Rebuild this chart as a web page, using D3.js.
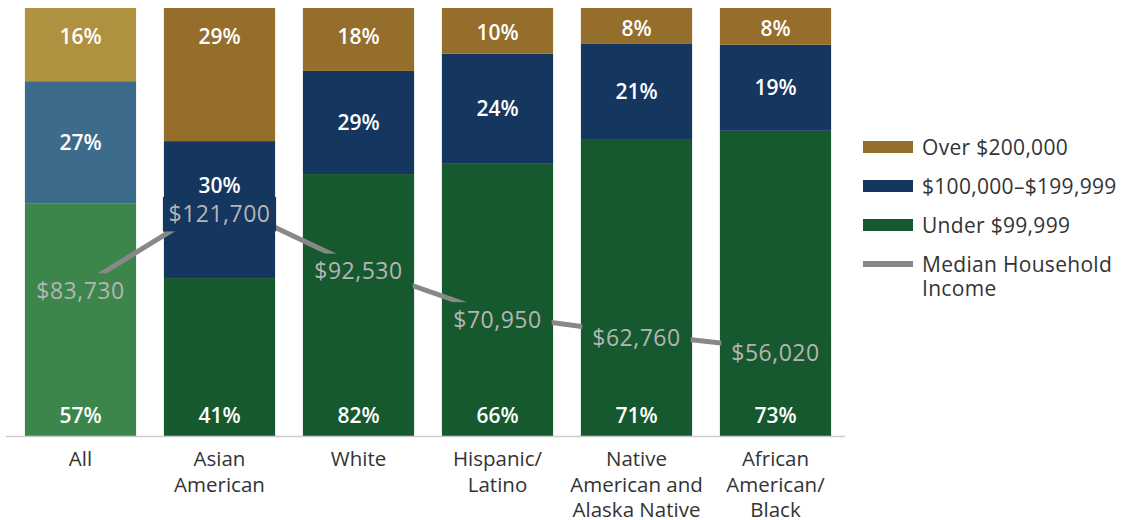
<!DOCTYPE html>
<html>
<head>
<meta charset="utf-8">
<script src="https://cdn.jsdelivr.net/npm/d3@7"></script>
<style>
	body { margin: 0; background: #fff; }
	svg { display: block; font-family: 'Open Sans', sans-serif; }
</style>
</head>
<body>
<svg></svg>
<script>
// categories and tick labels (multi line)
const categories = ['All', 'Asian American', 'White', 'Hispanic/Latino', 'Native American and Alaska Native', 'African American/Black'];
const tickLines = [['All'], ['Asian', 'American'], ['White'], ['Hispanic/', 'Latino'], ['Native', 'American and', 'Alaska Native'], ['African', 'American/', 'Black']];

// bar segment shares as drawn (percent of bar)
const under = [54.4, 36.9, 61.2, 63.6, 69.4, 71.3];
const middle = [28.5, 32.0, 24.1, 25.7, 22.2, 20.1];
const over = [17.1, 31.1, 14.7, 10.7, 8.4, 8.6];

// printed percentages
const underPct = [57, 41, 82, 66, 71, 73];
const middlePct = [27, 30, 29, 24, 21, 19];
const overPct = [16, 29, 18, 10, 8, 8];

// median household income
const medianIncome = [83730, 121700, 92530, 70950, 62760, 56020];

const legendItems = [
	{key: 'over', text: ['Over $200,000']},
	{key: 'middle', text: ['$100,000–$199,999']},
	{key: 'under', text: ['Under $99,999']},
	{key: 'line', text: ['Median Household', 'Income']}
];

const width = 1125, height = 520;
const colours = {under: '#17592e', middle: '#14365f', over: '#956e2b'};
const allColours = {under: '#3d864b', middle: '#3d6b8b', over: '#b0913f'};
const lineColour = '#888888';

const svg = d3.select('svg').attr('width', width).attr('height', height);

const rows = categories.map((c, i) => ({cat: c, i: i, under: under[i], middle: middle[i], over: over[i]}));
const pct = {under: underPct, middle: middlePct, over: overPct};
const keys = ['under', 'middle', 'over'];
const series = d3.stack().keys(keys)(rows);

const x = d3.scaleBand().domain(categories).range([11, 845]).paddingInner(0.2).paddingOuter(0.1);
const y = d3.scaleLinear().domain([0, 100]).range([436, 8]);
const y2 = d3.scaleLinear().domain([0, 200000]).range([475, 25]);

const colourOf = (key, i) => (i === 0 ? allColours : colours)[key];

// bars
const gBars = svg.append('g');
series.forEach(s => {
	gBars.selectAll(null)
		.data(s)
		.enter().append('rect')
			.attr('x', d => x(d.data.cat))
			.attr('y', d => y(d[1]))
			.attr('width', x.bandwidth())
			.attr('height', d => y(d[0]) - y(d[1]))
			.attr('fill', d => colourOf(s.key, d.data.i));
});

// axis line
svg.append('line')
	.attr('x1', 6).attr('x2', 845)
	.attr('y1', 436.5).attr('y2', 436.5)
	.attr('stroke', '#cccccc').attr('stroke-width', 1.5);

// tick labels
const gTicks = svg.append('g');
categories.forEach((c, i) => {
	const t = gTicks.append('text')
		.attr('x', x(c) + x.bandwidth() / 2)
		.attr('y', 466)
		.attr('text-anchor', 'middle')
		.attr('font-size', 20.5)
		.attr('fill', '#333');
	tickLines[i].forEach((l, j) => {
		t.append('tspan').attr('x', x(c) + x.bandwidth() / 2).attr('dy', j ? 25.5 : 0).text(l);
	});
});

// median income line
const cx = d => x(d) + x.bandwidth() / 2;
const pts = categories.map((c, i) => [cx(c), y2(medianIncome[i])]);
svg.append('path')
	.attr('d', d3.line()(pts))
	.attr('fill', 'none')
	.attr('stroke', lineColour)
	.attr('stroke-width', 5);

// income labels on boxes coloured like the bar underneath
const fmt = d3.format('$,');
const maxIncome = d3.max(medianIncome);
const incomeLabelY = medianIncome.map(v => y2(v) + (v === maxIncome ? 13 : 4));
const gInc = svg.append('g');
categories.forEach((c, i) => {
	const ly = incomeLabelY[i];
	const val = 100 * (436 - ly) / 428;
	const seg = series.find(s => s[i][0] <= val && val <= s[i][1]) || series[0];
	const txt = gInc.append('text')
		.attr('x', cx(c))
		.attr('y', ly)
		.attr('dy', '0.36em')
		.attr('text-anchor', 'middle')
		.attr('font-size', 23)
		.attr('letter-spacing', 0.5)
		.attr('fill', '#b5b5b5')
		.text(fmt(medianIncome[i]));
	const bb = txt.node().getBBox();
	const capH = 23 * 0.714;
	const bw = Math.min(bb.width + 20, x.bandwidth() + 2);
	gInc.insert('rect', 'text')
		.attr('x', cx(c) - bw / 2)
		.attr('y', ly - capH / 2 - 9)
		.attr('width', bw)
		.attr('height', capH + 18)
		.attr('fill', colourOf(seg.key, i));
});

// percentage labels
const gPct = svg.append('g');
series.forEach(s => {
	s.forEach((d, i) => {
		const top = y(d[1]), bot = y(d[0]), mid = (top + bot) / 2;
		let ly;
		if (s.key === 'over') ly = Math.min(top + 28, mid + 2);
		else if (s.key === 'under') ly = 436 - 21;
		else ly = (incomeLabelY[i] > top && incomeLabelY[i] < bot) ? top + 44 : mid;
		gPct.append('text')
			.attr('x', cx(d.data.cat))
			.attr('y', ly)
			.attr('dy', '0.36em')
			.attr('text-anchor', 'middle')
			.attr('font-size', 21)
			.attr('font-weight', 600)
			.attr('fill', '#fff')
			.text(pct[s.key][i] + '%');
	});
});

// legend
const gLeg = svg.append('g');
legendItems.forEach((item, k) => {
	const ly = 147 + k * 39;
	const isLine = item.key === 'line';
	gLeg.append('rect')
		.attr('x', 863)
		.attr('y', ly - (isLine ? 3 : 6))
		.attr('width', 50)
		.attr('height', isLine ? 6 : 12)
		.attr('fill', isLine ? lineColour : colours[item.key]);
	const t = gLeg.append('text')
		.attr('x', 922)
		.attr('y', ly)
		.attr('font-size', 21)
		.attr('letter-spacing', 0.3)
		.attr('fill', '#333');
	item.text.forEach((l, j) => {
		t.append('tspan').attr('x', 922).attr('dy', j ? 24.5 : '0.36em').text(l);
	});
});
</script>
</body>
</html>
